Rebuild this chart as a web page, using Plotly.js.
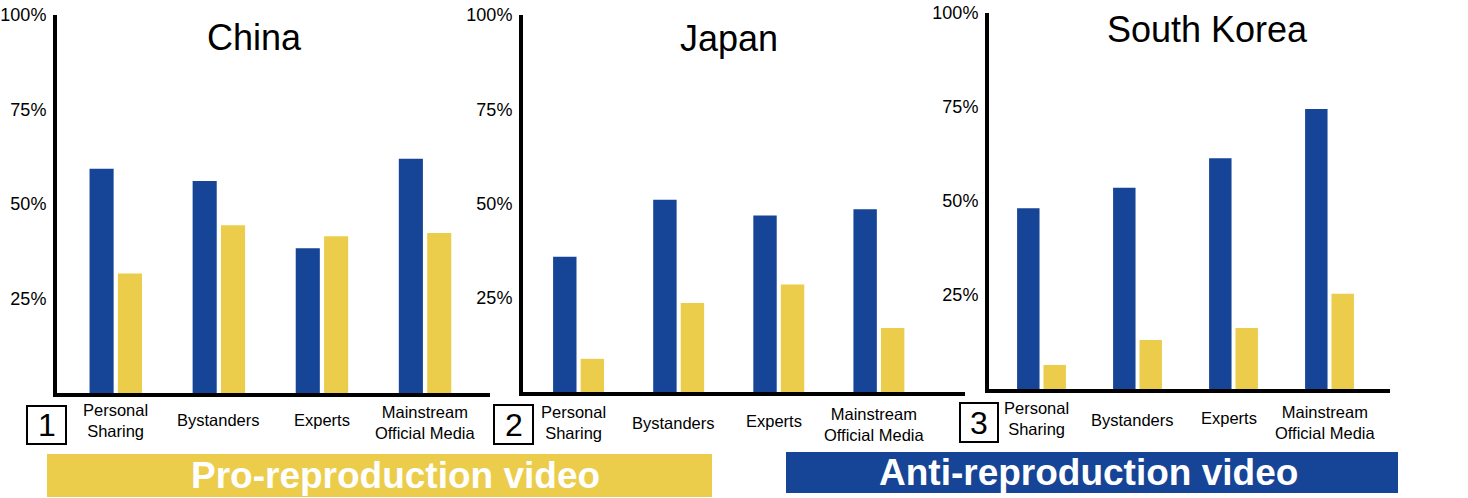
<!DOCTYPE html>
<html><head><meta charset="utf-8">
<script src="https://cdn.plot.ly/plotly-3.0.1.min.js"></script>
<style>html,body{margin:0;padding:0;background:#fff;}#chart{width:1468px;height:498px;}</style>
</head><body><div id="chart"></div>
<script>
// ---- data ----
const categories = ["Personal Sharing", "Bystanders", "Experts", "Mainstream Official Media"];
const categoryLabels = ["Personal<br>Sharing", "Bystanders", "Experts", "Mainstream<br>Official Media"];
const countries = ["China", "Japan", "South Korea"];
const panelNumbers = ["1", "2", "3"];
const chinaAnti = [59.3, 56.1, 38.3, 62.0];
const chinaPro  = [31.6, 44.4, 41.5, 42.3];
const japanAnti = [35.9, 51.0, 46.8, 48.5];
const japanPro  = [8.8, 23.6, 28.5, 17.0];
const koreaAnti = [48.1, 53.5, 61.4, 74.5];
const koreaPro  = [6.4, 13.0, 16.2, 25.3];
const yTickVals = [25, 50, 75, 100];
const yTickText = ["25%", "50%", "75%", "100%"];
const bannerTexts = ["Pro-reproduction video", "Anti-reproduction video"];

// ---- styling / layout ----
const BLUE = "#164496", YELLOW = "#EBCD4B";
const W = 1468, H = 498;
const PX = x => x / W, PY = y => 1 - y / H;
const FONT = "Liberation Sans, Arial, sans-serif";

const antiSeries = [chinaAnti, japanAnti, koreaAnti];
const proSeries = [chinaPro, japanPro, koreaPro];

const panels = [
  {x0: 57, x1: 490, y0: 393, y100: 15, r0: -0.57, r1: 3.63, titleX: 254, titleY: 37, labY: [420, 420, 420, 422], labShift: 0, box: [27, 66, 406, 444]},
  {x0: 523, x1: 965, y0: 392, y100: 15, r0: -0.555, r1: 3.86, titleX: 729, titleY: 38, labY: [422, 423, 421, 424], labShift: -5, box: [494, 533, 405, 444]},
  {x0: 989, x1: 1390, y0: 389, y100: 13, r0: -0.547, r1: 3.63, titleX: 1207, titleY: 29, labY: [418, 420, 418, 422], labShift: -5, box: [960, 998, 403, 442]}
];

const data = [];
const layout = {
  width: W, height: H,
  margin: {l: 0, r: 0, t: 0, b: 0},
  paper_bgcolor: "#fff", plot_bgcolor: "rgba(0,0,0,0)",
  showlegend: false,
  barmode: "group", bargap: 0.45, bargroupgap: 0.15,
  font: {family: FONT, color: "#000"},
  annotations: [], shapes: []
};

panels.forEach((p, i) => {
  const sfx = i === 0 ? "" : String(i + 1);
  const xa = "x" + sfx, ya = "y" + sfx;
  data.push({type: "bar", x: categories, y: antiSeries[i], xaxis: xa, yaxis: ya,
    marker: {color: BLUE}, hoverinfo: "skip"});
  data.push({type: "bar", x: categories, y: proSeries[i], xaxis: xa, yaxis: ya,
    marker: {color: YELLOW}, hoverinfo: "skip"});
  layout["xaxis" + sfx] = {
    domain: [PX(p.x0), PX(p.x1)], anchor: ya, range: [p.r0, p.r1],
    type: "category", categoryarray: categories, showticklabels: false, ticks: "",
    showgrid: false, zeroline: false, showline: true, linecolor: "#000", linewidth: 4, fixedrange: true
  };
  layout["yaxis" + sfx] = {
    domain: [PY(p.y0), PY(p.y100)], anchor: xa, range: [0, 100],
    tickvals: yTickVals, ticktext: yTickText, ticks: "", ticklabelstandoff: 3,
    tickfont: {size: 18, family: FONT, color: "#000"},
    showgrid: false, zeroline: false, showline: true, linecolor: "#000", linewidth: 4, fixedrange: true
  };
  layout.annotations.push({text: countries[i], xref: "paper", yref: "paper", x: PX(p.titleX), y: PY(p.titleY),
    xanchor: "center", yanchor: "middle", showarrow: false, font: {size: 36, family: FONT, color: "#000"}});
  categories.forEach((c, k) => {
    layout.annotations.push({text: categoryLabels[k], xref: xa, yref: "paper", x: c, y: PY(p.labY[k]),
      xanchor: "center", yanchor: "middle", xshift: p.labShift, showarrow: false, align: "center",
      font: {size: 16.5, family: FONT, color: "#000"}});
  });
  const b = p.box;
  layout.shapes.push({type: "rect", xref: "paper", yref: "paper", x0: PX(b[0]), x1: PX(b[1]), y0: PY(b[3]), y1: PY(b[2]),
    line: {color: "#000", width: 2}, fillcolor: "rgba(0,0,0,0)"});
  layout.annotations.push({text: panelNumbers[i], xref: "paper", yref: "paper", x: PX((b[0] + b[1]) / 2), y: PY((b[2] + b[3]) / 2),
    xanchor: "center", yanchor: "middle", showarrow: false, font: {size: 32, family: FONT, color: "#000"}});
});

const banners = [
  {x0: 47, x1: 712, y0: 454, y1: 497, color: YELLOW, tx: 395, ty: 475},
  {x0: 786, x1: 1398, y0: 452, y1: 493, color: BLUE, tx: 1088, ty: 472}
];
banners.forEach((bn, i) => {
  layout.shapes.push({type: "rect", xref: "paper", yref: "paper", x0: PX(bn.x0), x1: PX(bn.x1), y0: PY(bn.y1), y1: PY(bn.y0),
    line: {width: 0}, fillcolor: bn.color, layer: "below"});
  layout.annotations.push({text: "<b>" + bannerTexts[i] + "</b>", xref: "paper", yref: "paper", x: PX(bn.tx), y: PY(bn.ty),
    xanchor: "center", yanchor: "middle", showarrow: false, font: {size: 37, family: FONT, color: "#fff"}});
});

Plotly.newPlot("chart", data, layout, {staticPlot: true, displayModeBar: false});
</script>
</body></html>
